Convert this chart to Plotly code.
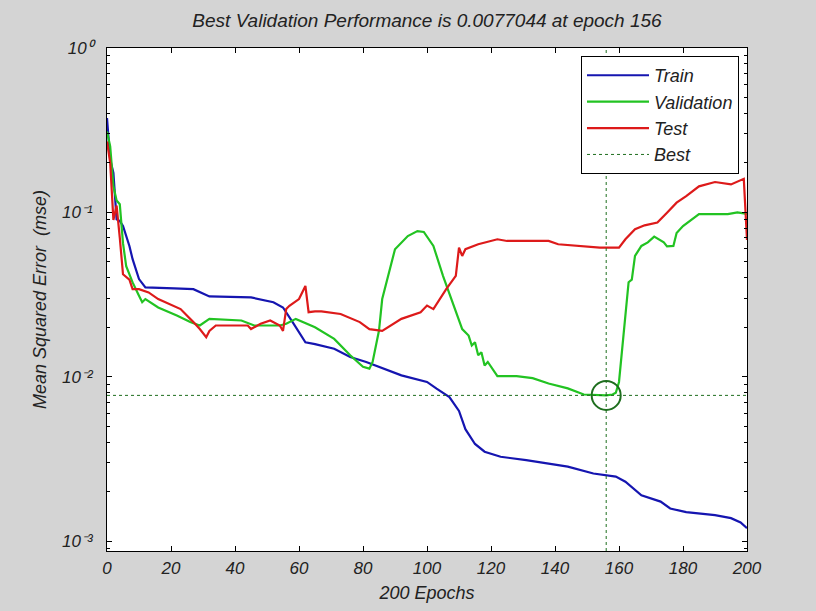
import plotly.graph_objects as go

# ---------------- data ----------------
train_epoch = [0, 1, 2, 3, 4, 5, 7, 8, 10, 12, 21, 27, 32, 45, 52, 55, 58, 62, 65, 71, 76, 81, 92,
               100, 103, 107, 110, 112, 115, 118, 123, 131, 144, 152, 159, 162, 167, 173, 176, 181,
               190, 195, 198, 200]
train_mse = [0.375, 0.21, 0.174, 0.0907, 0.0886, 0.0826, 0.0625, 0.0519, 0.0393, 0.035, 0.0345, 0.0341,
             0.0308, 0.0304, 0.0284, 0.0264, 0.0215, 0.0162, 0.0158, 0.0148, 0.0132, 0.0123, 0.0102,
             0.0093, 0.00846, 0.00753, 0.0062, 0.0048, 0.0039, 0.0035, 0.00326, 0.00311, 0.00284,
             0.00258, 0.00247, 0.0023, 0.0019, 0.00174, 0.00158, 0.0015, 0.00144, 0.00138, 0.0013, 0.0012]

val_epoch = [0, 1, 2, 3, 4, 5, 6, 8, 10, 11, 12, 16, 22, 26, 29, 32, 42, 46, 54, 56, 59, 65, 71, 76,
             80, 82, 83, 85, 86, 88, 90, 94, 97, 99, 102, 105, 108, 111, 113, 114, 115, 116, 117, 118,
             119, 121, 122, 128, 133, 138, 144, 149, 154, 156, 158, 159, 160, 161, 162, 163, 164, 165,
             167, 169, 171, 174, 175, 177, 178, 180, 185, 194, 197, 200]
val_mse = [0.311, 0.252, 0.144, 0.118, 0.112, 0.065, 0.047, 0.0375, 0.0311, 0.0284, 0.0297, 0.0264,
           0.0235, 0.0215, 0.0205, 0.0225, 0.022, 0.0205, 0.0205, 0.021, 0.0225, 0.02, 0.017, 0.0135,
           0.0115, 0.0112, 0.0123, 0.0191, 0.0297, 0.043, 0.0597, 0.0718, 0.077, 0.076, 0.0625, 0.0411,
           0.0284, 0.0195, 0.0178, 0.0155, 0.0162, 0.0135, 0.0141, 0.0117, 0.0123, 0.0107, 0.0101,
           0.0101, 0.0098, 0.0091, 0.0085, 0.0078, 0.00775, 0.0077044, 0.0078, 0.008, 0.0093, 0.0148,
           0.026, 0.0376, 0.039, 0.0543, 0.0625, 0.0657, 0.0712, 0.0657, 0.0621, 0.0625, 0.075, 0.0826,
           0.0975, 0.0975, 0.1, 0.098]

test_epoch = [0, 1, 2, 3, 4, 5, 7, 8, 10, 13, 16, 23, 27, 29, 31, 32, 34, 44, 45, 48, 51, 54, 55, 56,
              57, 60, 62, 63, 65, 67, 73, 79, 82, 86, 92, 98, 100, 102, 106, 109, 110, 111, 112, 116,
              122, 125, 138, 141, 154, 160, 162, 165, 168, 172, 175, 178, 181, 185, 190, 195, 199, 200]
test_mse = [0.27, 0.2, 0.09, 0.11, 0.07, 0.042, 0.039, 0.0341, 0.0341, 0.0326, 0.0297, 0.0258, 0.0215,
            0.0195, 0.0174, 0.019, 0.0205, 0.0205, 0.0195, 0.021, 0.022, 0.0205, 0.019, 0.0258, 0.027,
            0.0297, 0.0357, 0.0247, 0.025, 0.025, 0.0241, 0.0215, 0.0195, 0.019, 0.0225, 0.0247, 0.0271,
            0.0258, 0.0341, 0.0411, 0.061, 0.0543, 0.0597, 0.064, 0.0686, 0.067, 0.067, 0.064, 0.061,
            0.061, 0.0686, 0.0789, 0.0834, 0.0867, 0.0996, 0.1145, 0.1256, 0.144, 0.153, 0.148, 0.16,
            0.068]

best_epoch = 156
best_perf = 0.0077044
n_epochs = 200

x_ticks = [0, 20, 40, 60, 80, 100, 120, 140, 160, 180, 200]
y_ticks = [1e-3, 1e-2, 1e-1, 1]
y_ticktext = ["10\u207b\u00b3", "10\u207b\u00b2", "10\u207b\u00b9", "10\u2070"]

assert len(train_epoch) == len(train_mse)
assert len(val_epoch) == len(val_mse)
assert len(test_epoch) == len(test_mse)

# ---------------- styling ----------------
FONT = "Liberation Sans, Arial, sans-serif"
TXT = "#222222"
BLUE = "#1515b0"
GREEN = "#22c322"
RED = "#dd1a1a"
BEST = "#1e6e1e"
BG = "#d4d4d4"
y_min_log = -3.06
y_min = 10 ** y_min_log

minor_vals = [k * 10.0 ** e for e in (-4, -3, -2, -1) for k in range(2, 10)
              if k * 10.0 ** e >= y_min]


def f(size):
    return dict(family=FONT, size=size, color=TXT, style="italic")


fig = go.Figure()
fig.add_trace(go.Scatter(x=train_epoch, y=train_mse, mode="lines", name="Train",
                         line=dict(color=BLUE, width=2.2)))
fig.add_trace(go.Scatter(x=val_epoch, y=val_mse, mode="lines", name="Validation",
                         line=dict(color=GREEN, width=2.2)))
fig.add_trace(go.Scatter(x=test_epoch, y=test_mse, mode="lines", name="Test",
                         line=dict(color=RED, width=2.2)))
fig.add_trace(go.Scatter(x=[0, n_epochs], y=[best_perf, best_perf], mode="lines", name="Best",
                         line=dict(color=BEST, width=1, dash="3px,3px")))
fig.add_trace(go.Scatter(x=[best_epoch, best_epoch], y=[y_min, 1], mode="lines", showlegend=False,
                         line=dict(color=BEST, width=1, dash="3px,3px")))
fig.add_trace(go.Scatter(x=[best_epoch], y=[best_perf], mode="markers", showlegend=False,
                         marker=dict(symbol="circle-open", size=29, color=BEST,
                                     line=dict(color=BEST, width=2))))

fig.update_layout(
    width=816, height=611,
    margin=dict(l=107, r=69, t=48, b=58),
    paper_bgcolor=BG, plot_bgcolor="white",
    font=f(17),
    title=dict(text="Best Validation Performance is 0.0077044 at epoch 156",
               x=0.5, xref="paper", xanchor="center",
               y=1 - 20 / 611, yref="container", yanchor="middle",
               font=f(19)),
    showlegend=True,
    legend=dict(x=0.9875, xanchor="right", y=0.984, yanchor="top",
                bgcolor="white", bordercolor="black", borderwidth=1,
                font=f(18), itemwidth=62, tracegroupgap=0),
)

fig.update_xaxes(
    range=[0, n_epochs], tickvals=x_ticks, ticks="inside", ticklen=5, tickcolor="black",
    showline=True, linecolor="black", linewidth=1, mirror="ticks", showgrid=False, zeroline=False,
    tickfont=f(17), ticklabelstandoff=2,
    title=dict(text="200 Epochs", standoff=8, font=f(18)),
)
fig.update_yaxes(
    type="log", range=[y_min_log, 0], tickvals=y_ticks, ticktext=y_ticktext,
    ticks="inside", ticklen=5, tickcolor="black",
    minor=dict(tickvals=minor_vals, ticks="inside", ticklen=3, tickcolor="black", showgrid=False),
    showline=True, linecolor="black", linewidth=1, mirror="ticks", showgrid=False, zeroline=False,
    tickfont=f(17), ticklabelstandoff=10,
    title=dict(text="Mean Squared Error  (mse)", standoff=10, font=f(18)),
)

fig.write_html("out.html")
